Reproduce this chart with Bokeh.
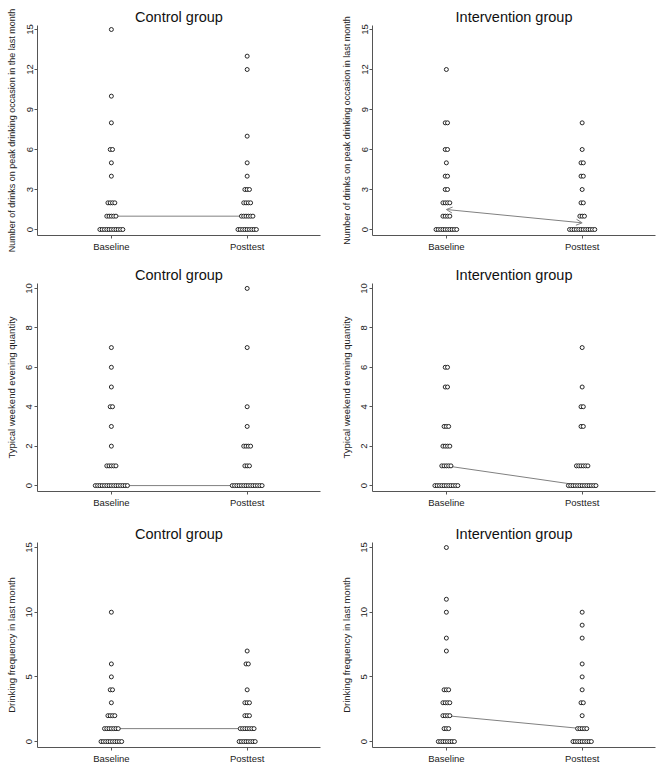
from bokeh.plotting import figure
from bokeh.layouts import gridplot
from bokeh.models import FixedTicker, Range1d, Arrow, OpenHead
from bokeh.embed import file_html
from bokeh.resources import INLINE

# ---------------- data ----------------
x_pos = [1, 2]
x_labels = ["Baseline", "Posttest"]

titles = ["Control group", "Intervention group"]

# Row 1: number of drinks on peak drinking occasion
peak_ctrl_base_vals = [0, 1, 2, 4, 5, 6, 8, 10, 15]
peak_ctrl_base_counts = [11, 5, 4, 1, 1, 2, 1, 1, 1]
peak_ctrl_post_vals = [0, 1, 2, 3, 4, 5, 7, 12, 13]
peak_ctrl_post_counts = [9, 6, 4, 3, 1, 1, 1, 1, 1]
peak_ctrl_medians = [1, 1]

peak_int_base_vals = [0, 1, 2, 3, 4, 5, 6, 8, 12]
peak_int_base_counts = [10, 4, 4, 2, 2, 1, 2, 2, 1]
peak_int_post_vals = [0, 1, 2, 3, 4, 5, 6, 8]
peak_int_post_counts = [12, 3, 2, 1, 2, 2, 1, 1]
peak_int_medians = [1.5, 0.5]

peak_ticks = [0, 3, 6, 9, 12, 15]

# Row 2: typical weekend evening quantity
wknd_ctrl_base_vals = [0, 1, 2, 3, 4, 5, 6, 7]
wknd_ctrl_base_counts = [15, 5, 1, 1, 2, 1, 1, 1]
wknd_ctrl_post_vals = [0, 1, 2, 3, 4, 7, 10]
wknd_ctrl_post_counts = [14, 3, 4, 1, 1, 1, 1]
wknd_ctrl_medians = [0, 0]

wknd_int_base_vals = [0, 1, 2, 3, 5, 6]
wknd_int_base_counts = [11, 5, 4, 3, 2, 2]
wknd_int_post_vals = [0, 1, 3, 4, 5, 7]
wknd_int_post_counts = [13, 6, 2, 2, 1, 1]
wknd_int_medians = [1, 0]

wknd_ticks = [0, 2, 4, 6, 8, 10]

# Row 3: drinking frequency in last month
freq_ctrl_base_vals = [0, 1, 2, 3, 4, 5, 6, 10]
freq_ctrl_base_counts = [10, 7, 4, 1, 2, 1, 1, 1]
freq_ctrl_post_vals = [0, 1, 2, 3, 4, 6, 7]
freq_ctrl_post_counts = [8, 7, 3, 3, 1, 2, 1]
freq_ctrl_medians = [1, 1]

freq_int_base_vals = [0, 1, 2, 3, 4, 7, 8, 10, 11, 15]
freq_int_base_counts = [8, 3, 4, 4, 3, 1, 1, 1, 1, 1]
freq_int_post_vals = [0, 1, 2, 3, 4, 5, 6, 8, 9, 10]
freq_int_post_counts = [9, 5, 1, 2, 1, 1, 1, 1, 1, 1]
freq_int_medians = [2, 1]

freq_ticks = [0, 5, 10, 15]

# ---------------- styling ----------------
FONT = "Liberation Sans"
DOT_STEP = 0.0169   # horizontal step between stacked dots (x data units)
AXIS_COL = "#555555"
LINE_COL = "#808080"


def dot_positions(xc, vals, counts):
    xs, ys = [], []
    for v, c in zip(vals, counts):
        for k in range(c):
            xs.append(xc + (k - (c - 1) / 2.0) * DOT_STEP)
            ys.append(v)
    return xs, ys


def make_panel(title, ylabel, yticks, yrange, bv, bc, pv, pc, medians,
               width, height, left, right, top, bottom, arrows=False,
               ylabel_size="9.5px"):
    p = figure(width=width, height=height, output_backend="svg",
               toolbar_location=None,
               x_range=Range1d(0.456, 2.54), y_range=Range1d(*yrange),
               min_border_left=left, min_border_right=right,
               min_border_top=top, min_border_bottom=bottom)
    p.title.text = title
    p.title.align = "center"
    p.title.text_font = FONT
    p.title.text_font_size = "14.5px"
    p.title.text_font_style = "normal"
    p.title.text_color = "#111111"
    p.title.standoff = 1
    p.outline_line_color = None
    p.grid.visible = False
    p.background_fill_color = "white"
    p.border_fill_color = "white"

    p.xaxis.ticker = FixedTicker(ticks=x_pos)
    p.xaxis.major_label_overrides = {x: lab for x, lab in zip(x_pos, x_labels)}
    p.yaxis.ticker = FixedTicker(ticks=yticks)
    p.yaxis.major_label_orientation = "vertical"
    p.yaxis.axis_label = ylabel
    for ax in p.axis:
        ax.axis_line_color = AXIS_COL
        ax.axis_line_width = 1
        ax.major_tick_line_color = AXIS_COL
        ax.major_tick_out = 3
        ax.major_tick_in = 0
        ax.minor_tick_line_color = None
        ax.major_label_text_font = FONT
        ax.major_label_text_font_size = "9.5px"
        ax.major_label_text_color = "#222222"
        ax.major_label_standoff = 2
        ax.axis_label_text_font = FONT
        ax.axis_label_text_font_size = ylabel_size
        ax.axis_label_text_font_style = "normal"
        ax.axis_label_text_color = "#222222"
        ax.axis_label_standoff = 7

    if arrows:
        p.add_layout(Arrow(x_start=x_pos[0], y_start=medians[0],
                           x_end=x_pos[1], y_end=medians[1],
                           start=OpenHead(size=6, line_color=LINE_COL, line_width=1),
                           end=OpenHead(size=6, line_color=LINE_COL, line_width=1),
                           line_color=LINE_COL, line_width=1))
    else:
        p.line(x_pos, medians, line_color=LINE_COL, line_width=1)

    xs, ys = dot_positions(x_pos[0], bv, bc)
    xs2, ys2 = dot_positions(x_pos[1], pv, pc)
    p.scatter(xs + xs2, ys + ys2, marker="circle", size=4,
              fill_color="white", line_color="#111111", line_width=0.9)
    return p


LW, RW = 330, 334
LB_L, LB_R = 37, 10
RB_L, RB_R = 42, 9

p1 = make_panel(titles[0], "Number of drinks on peak drinking occasion in the last month",
                peak_ticks, (-0.45, 15.3),
                peak_ctrl_base_vals, peak_ctrl_base_counts,
                peak_ctrl_post_vals, peak_ctrl_post_counts, peak_ctrl_medians,
                LW, 255, LB_L, LB_R, 25, 20, ylabel_size="9px")
p2 = make_panel(titles[1], "Number of drinks on peak drinking occasion in last month",
                peak_ticks, (-0.45, 15.3),
                peak_int_base_vals, peak_int_base_counts,
                peak_int_post_vals, peak_int_post_counts, peak_int_medians,
                RW, 255, RB_L, RB_R, 25, 20, arrows=True, ylabel_size="9px")
p3 = make_panel(titles[0], "Typical weekend evening quantity",
                wknd_ticks, (-0.3, 10.25),
                wknd_ctrl_base_vals, wknd_ctrl_base_counts,
                wknd_ctrl_post_vals, wknd_ctrl_post_counts, wknd_ctrl_medians,
                LW, 255, LB_L, LB_R, 28, 17)
p4 = make_panel(titles[1], "Typical weekend evening quantity",
                wknd_ticks, (-0.3, 10.25),
                wknd_int_base_vals, wknd_int_base_counts,
                wknd_int_post_vals, wknd_int_post_counts, wknd_int_medians,
                RW, 255, RB_L, RB_R, 28, 17)
p5 = make_panel(titles[0], "Drinking frequency in last month",
                freq_ticks, (-0.46, 15.39),
                freq_ctrl_base_vals, freq_ctrl_base_counts,
                freq_ctrl_post_vals, freq_ctrl_post_counts, freq_ctrl_medians,
                LW, 259, LB_L, LB_R, 32, 22)
p6 = make_panel(titles[1], "Drinking frequency in last month",
                freq_ticks, (-0.46, 15.39),
                freq_int_base_vals, freq_int_base_counts,
                freq_int_post_vals, freq_int_post_counts, freq_int_medians,
                RW, 259, RB_L, RB_R, 32, 22)

grid = gridplot([[p1, p2], [p3, p4], [p5, p6]], toolbar_location=None)

open("out.html", "w").write(file_html(grid, INLINE))
